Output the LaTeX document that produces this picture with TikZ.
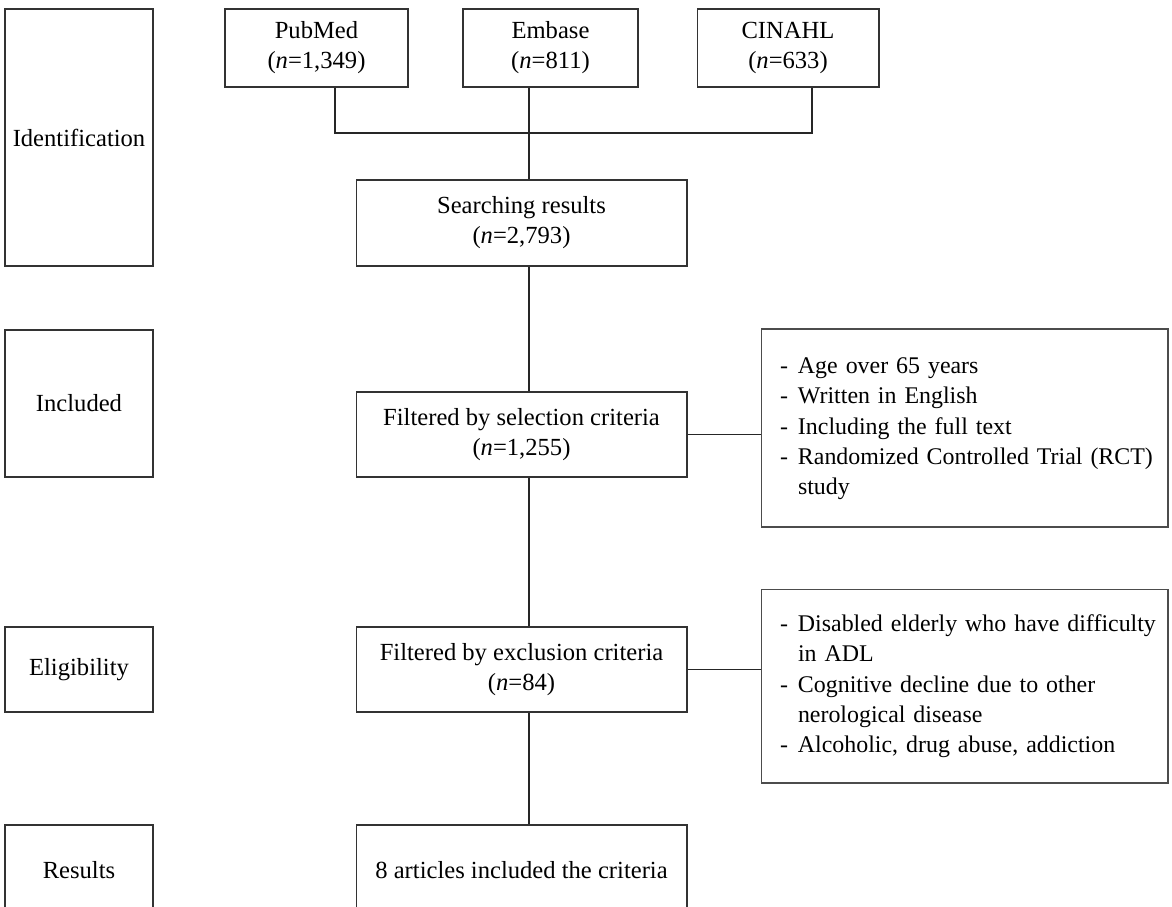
\documentclass[tikz,border=0pt]{standalone}
\usepackage{fontspec}
\setmainfont{Liberation Serif}
\usepackage{tikz}
\usetikzlibrary{positioning,calc}

\begin{document}
\begin{tikzpicture}[
    x=0.02cm,y=-0.02cm,
    box/.style   = {rectangle,draw=black!80,line width=0.6pt,fill=white,
                    align=center,font=\fontsize{14}{17}\selectfont,inner sep=0pt},
    stage/.style = {box,minimum width=2.96cm},
    crit/.style  = {rectangle,draw=black!70,line width=0.6pt,fill=white,
                    align=left,font=\fontsize{13.6}{17.2}\selectfont,
                    inner xsep=0.38cm,inner ysep=0pt,text width=7.38cm},
    ln/.style    = {draw=black!85,line width=0.6pt},
  ]

  \useasboundingbox (0,0) rectangle (1172,906);
  \clip (0,0) rectangle (1172,906);

  % stages on the left
  \node[stage,minimum height=5.14cm] (ident) at (79,137.5) {Identification};
  \node[stage,minimum height=2.94cm] (incl)  at (79,403.5) {Included};
  \node[stage,minimum height=1.70cm] (elig)  at (79,669.5) {Eligibility};
  \node[stage,minimum height=1.80cm] (res)   at (79,870)   {Results};

  % databases
  \node[box,minimum width=3.66cm,minimum height=1.56cm] (pub) at (316.5,48)
       {PubMed\\(\textit{n}=1,349)};
  \node[box,minimum width=3.50cm,minimum height=1.56cm] (emb) at (550.5,48)
       {Embase\\(\textit{n}=811)};
  \node[box,minimum width=3.64cm,minimum height=1.56cm] (cin) at (788,48)
       {CINAHL\\(\textit{n}=633)};

  % main column
  \node[box,minimum width=6.62cm,minimum height=1.72cm] (search) at (521.5,223)
       {Searching results\\(\textit{n}=2,793)};
  \node[box,minimum width=6.62cm,minimum height=1.70cm] (sel) at (521.5,434.5)
       {Filtered by selection criteria\\(\textit{n}=1,255)};
  \node[box,minimum width=6.62cm,minimum height=1.70cm] (exc) at (521.5,669.5)
       {Filtered by exclusion criteria\\(\textit{n}=84)};
  \node[box,minimum width=6.62cm,minimum height=1.80cm] (fin) at (521.5,870)
       {8 articles included the criteria};

  % criteria
  \node[crit,minimum height=3.96cm] (inc) at (964.5,428)
       {\begin{tabular}{@{}l@{\hspace{0.2cm}}l@{}}
        - & Age over 65 years\\
        - & Written in English\\
        - & Including the full text\\
        - & Randomized Controlled Trial (RCT)\\
          & study
        \end{tabular}};
  \node[crit,minimum height=3.88cm] (excl) at (964.5,686)
       {\begin{tabular}{@{}l@{\hspace{0.2cm}}l@{}}
        - & Disabled elderly who have difficulty\\
          & in ADL\\
        - & Cognitive decline due to other\\
          & nerological disease\\
        - & Alcoholic, drug abuse, addiction
        \end{tabular}};

  % connectors
  \coordinate (jl) at (335,133);
  \coordinate (jr) at (812,133);
  \coordinate (spine) at (529,0);

  \draw[ln] (pub.south -| jl) -- (jl) -- (jr) -- (cin.south -| jr);
  \draw[ln] (emb.south -| spine) -- (search.north -| spine);
  \draw[ln] (search.south -| spine) -- (sel.north -| spine);
  \draw[ln] (sel.south -| spine) -- (exc.north -| spine);
  \draw[ln] (exc.south -| spine) -- (fin.north -| spine);
  \draw[ln] (sel.east) -- (sel.east -| inc.west);
  \draw[ln] (exc.east) -- (exc.east -| excl.west);

\end{tikzpicture}
\end{document}
